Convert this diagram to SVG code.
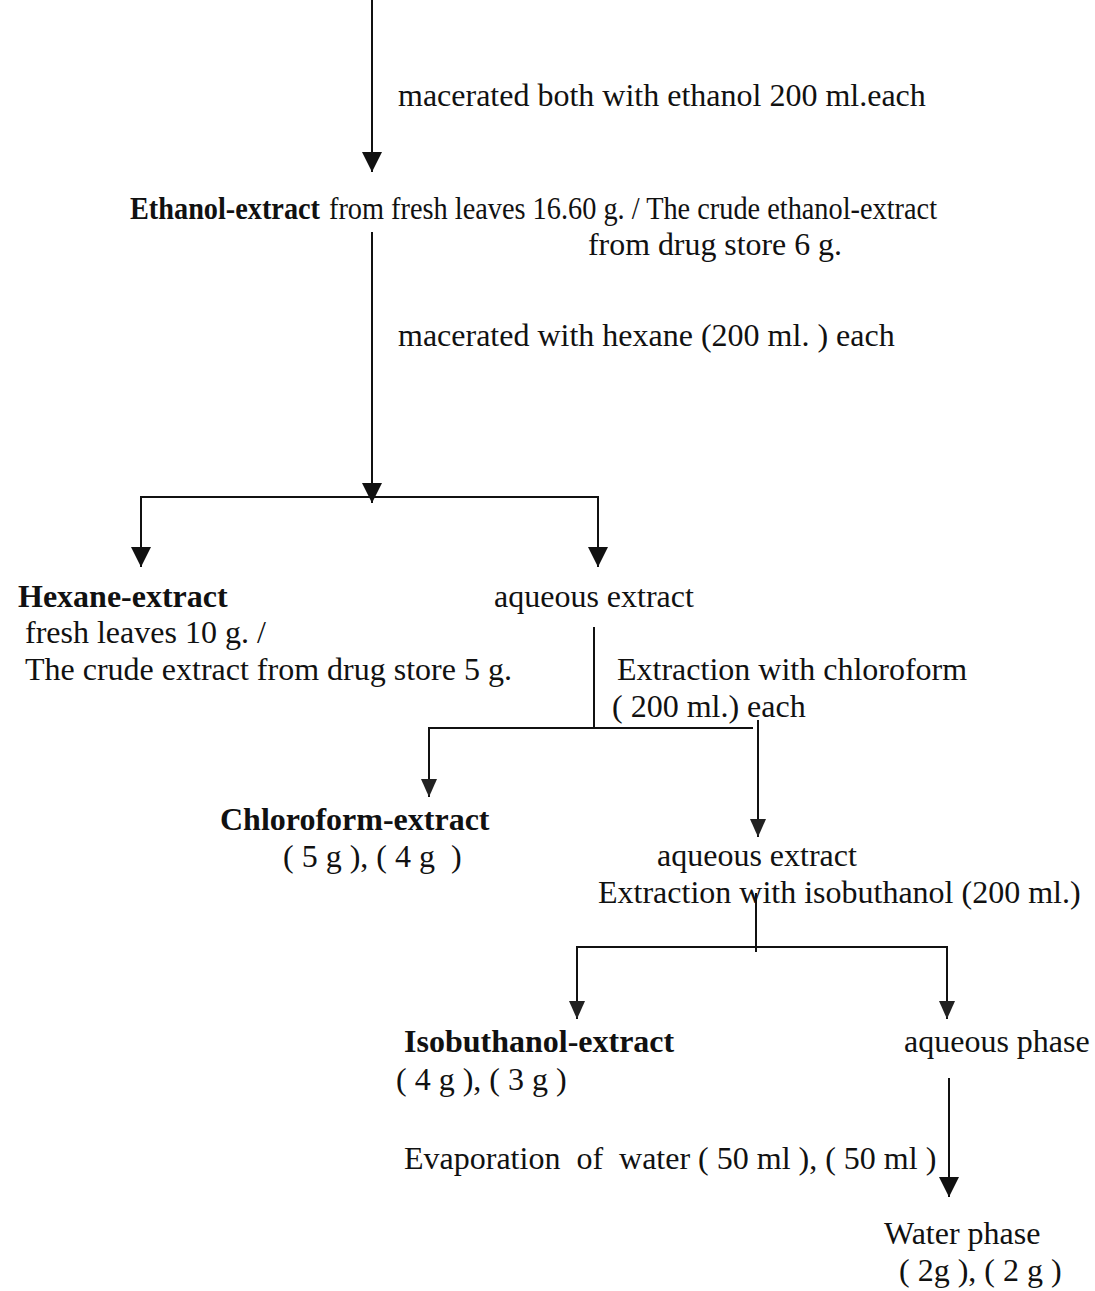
<svg xmlns="http://www.w3.org/2000/svg" width="1095" height="1291" viewBox="0 0 1095 1291">
<style>
text{font-family:"Liberation Serif","Times New Roman",serif;font-size:32px;fill:#111;white-space:pre}
.b{font-weight:bold}
.ln{stroke:#111;stroke-width:2;fill:none}
</style>
<defs>
<marker id="ah" markerUnits="userSpaceOnUse" markerWidth="22" markerHeight="22" viewBox="0 0 22 22" refX="20" refY="11" orient="auto-start-reverse">
<path d="M0,1 L20,11 L0,21 Z" fill="#111"/>
</marker>
<marker id="ahs" markerUnits="userSpaceOnUse" markerWidth="20" markerHeight="20" viewBox="0 0 20 20" refX="18" refY="10" orient="auto-start-reverse">
<path d="M0,2 L18,10 L0,18 Z" fill="#222"/>
</marker>
</defs>
<rect width="1095" height="1291" fill="#fff"/>
<g id="connectors">
<line class="ln" x1="372" y1="0" x2="372" y2="172" marker-end="url(#ah)"/>
<line class="ln" x1="372" y1="232" x2="372" y2="503" marker-end="url(#ah)"/>
<polyline class="ln" points="141,567 141,497 598,497 598,567" marker-start="url(#ah)" marker-end="url(#ah)"/>
<line class="ln" x1="594" y1="627" x2="594" y2="728"/>
<polyline class="ln" points="429,797 429,728 753,728" marker-start="url(#ahs)"/>
<line class="ln" x1="758" y1="720" x2="758" y2="837" marker-end="url(#ahs)"/>
<line class="ln" x1="756" y1="893" x2="756" y2="952"/>
<polyline class="ln" points="577,1019 577,947 947,947 947,1019" marker-start="url(#ahs)" marker-end="url(#ahs)"/>
<line class="ln" x1="949" y1="1078" x2="949" y2="1197" marker-end="url(#ah)"/>
</g>
<g id="label-ethanol-maceration"><text x="398" y="106">macerated both with ethanol 200 ml.each</text></g>
<g id="node-ethanol-extract">
<text class="b" x="130" y="219" textLength="190" lengthAdjust="spacingAndGlyphs">Ethanol-extract</text>
<text x="329" y="219" textLength="608" lengthAdjust="spacingAndGlyphs">from fresh leaves 16.60 g. / The crude ethanol-extract</text>
<text x="588" y="255" textLength="254" lengthAdjust="spacingAndGlyphs">from drug store 6 g.</text>
</g>
<g id="label-hexane-maceration"><text x="398" y="346">macerated with hexane (200 ml. ) each</text></g>
<g id="node-hexane-extract">
<text class="b" x="18" y="607">Hexane-extract</text>
<text x="25" y="643">fresh leaves 10 g. /</text>
<text x="25" y="680">The crude extract from drug store 5 g.</text>
</g>
<g id="node-aqueous-extract-1"><text x="494" y="607">aqueous extract</text></g>
<g id="label-chloroform-extraction">
<text x="617" y="680">Extraction with chloroform</text>
<text x="612" y="717">( 200 ml.) each</text>
</g>
<g id="node-chloroform-extract">
<text class="b" x="220" y="830">Chloroform-extract</text>
<text x="283" y="867">( 5 g ), ( 4 g  )</text>
</g>
<g id="node-aqueous-extract-2"><text x="657" y="866">aqueous extract</text></g>
<g id="label-isobuthanol-extraction"><text x="598" y="903">Extraction with isobuthanol (200 ml.)</text></g>
<g id="node-isobuthanol-extract">
<text class="b" x="404" y="1052">Isobuthanol-extract</text>
<text x="396" y="1090">( 4 g ), ( 3 g )</text>
</g>
<g id="node-aqueous-phase"><text x="904" y="1052">aqueous phase</text></g>
<g id="label-evaporation"><text x="404" y="1169">Evaporation  of  water ( 50 ml ), ( 50 ml )</text></g>
<g id="node-water-phase">
<text x="884" y="1244">Water phase</text>
<text x="899" y="1281">( 2g ), ( 2 g )</text>
</g>
</svg>
